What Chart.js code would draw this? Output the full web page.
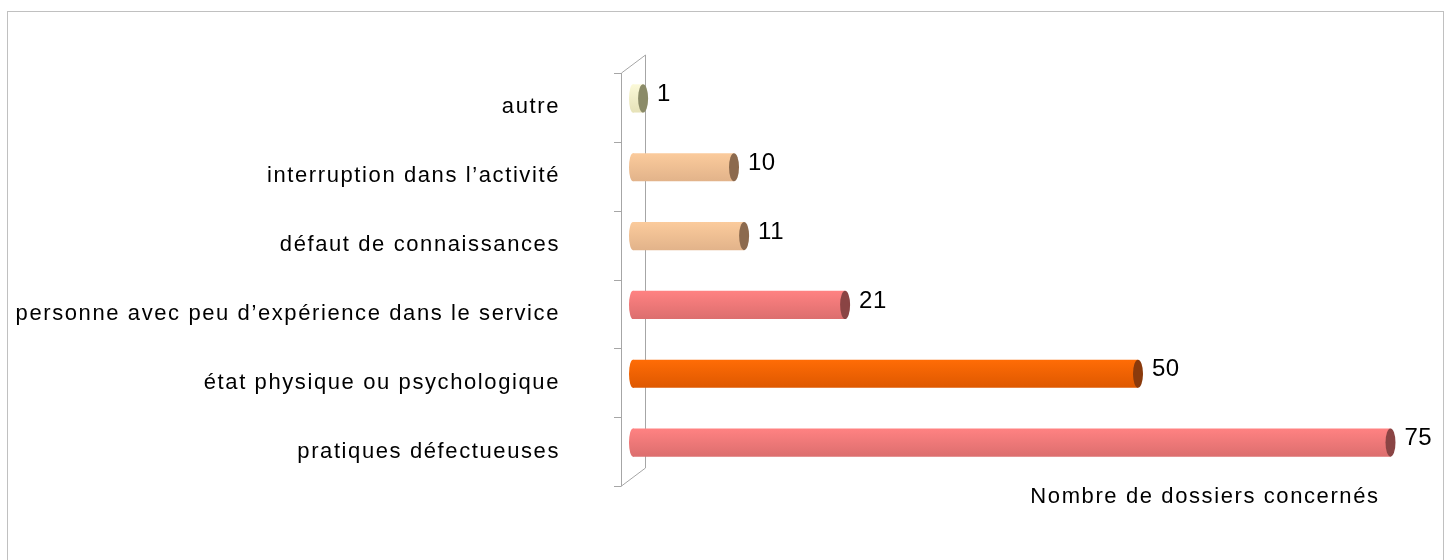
<!DOCTYPE html>
<html>
<head>
<meta charset="utf-8">
<script src="https://cdn.jsdelivr.net/npm/chart.js@4"></script>
<style>
  html, body { margin: 0; padding: 0; background: #fff; }
  #wrap { position: relative; width: 1452px; height: 560px; overflow: hidden; }
  #frame {
    position: absolute; left: 7px; top: 11px; width: 1437px; height: 560px;
    border: 1px solid #c0c0c0; box-sizing: border-box;
  }
  canvas { position: absolute; left: 0; top: 0; }
</style>
</head>
<body>
<div id="wrap">
  <div id="frame"></div>
  <canvas id="chart" width="1452" height="560"></canvas>
</div>
<script>
// categories, listed top to bottom as in the picture
const categories = [
  "autre",
  "interruption dans l\u2019activit\u00e9",
  "d\u00e9faut de connaissances",
  "personne avec peu d\u2019exp\u00e9rience dans le service",
  "\u00e9tat physique ou psychologique",
  "pratiques d\u00e9fectueuses"
];
const values = [1, 10, 11, 21, 50, 75];
const axisTitle = "Nombre de dossiers concern\u00e9s";

// [top, bottom, cap] per bar
const palette = [
  ["#fbf9d8", "#e6e2b8", "#8b8b68"],
  ["#fbcb9c", "#e2b38a", "#8c6a4e"],
  ["#fbcb9c", "#e2b38a", "#8c6a4e"],
  ["#ff8282", "#dc6e6e", "#8a4444"],
  ["#ff6c06", "#de5800", "#8a3a0c"],
  ["#ff8282", "#dc6e6e", "#8a4444"]
];

const FONT = "'Liberation Sans', Arial, sans-serif";
const SPACING = "1.6px";
const DEPTH_X = 12, DEPTH_Y = 9;

function makeGradient(ctx, y, i) {
  const half = 14;
  const g = ctx.createLinearGradient(0, y - half, 0, y + half);
  g.addColorStop(0, palette[i][0]);
  g.addColorStop(1, palette[i][1]);
  return g;
}

function barGradient(context) {
  const chart = context.chart;
  if (!chart.chartArea) return palette[context.dataIndex][0];
  const y = chart.scales.y.getPixelForValue(context.dataIndex);
  return makeGradient(chart.ctx, y, context.dataIndex);
}

const wallPlugin = {
  id: "walls",
  beforeDraw(chart) {
    chart.ctx.letterSpacing = SPACING;
  },
  beforeDatasetsDraw(chart) {
    const { ctx, chartArea: a } = chart;
    const fx = a.left - DEPTH_X, bx = a.left + DEPTH_X;
    const fTop = a.top + DEPTH_Y, fBot = a.bottom + DEPTH_Y;
    const bTop = a.top - DEPTH_Y, bBot = a.bottom - DEPTH_Y;
    ctx.save();
    ctx.strokeStyle = "#a6a6a6";
    ctx.lineWidth = 1;
    ctx.beginPath();
    ctx.moveTo(fx + 0.5, fTop); ctx.lineTo(fx + 0.5, fBot);
    ctx.moveTo(bx + 0.5, bTop); ctx.lineTo(bx + 0.5, bBot);
    ctx.moveTo(fx + 0.5, fTop); ctx.lineTo(bx + 0.5, bTop);
    ctx.moveTo(fx + 0.5, fBot); ctx.lineTo(bx + 0.5, bBot);
    const band = (a.bottom - a.top) / categories.length;
    for (let i = 0; i <= categories.length; i++) {
      const ty = Math.round(fTop + i * band) + 0.5;
      ctx.moveTo(fx - 7, ty); ctx.lineTo(fx + 0.5, ty);
    }
    ctx.stroke();
    ctx.restore();
  },
  afterDatasetsDraw(chart) {
    const { ctx } = chart;
    const meta = chart.getDatasetMeta(0);
    ctx.save();
    meta.data.forEach((bar, i) => {
      const h = bar.height;
      // rounded start of the cylinder
      ctx.fillStyle = makeGradient(ctx, bar.y, i);
      ctx.beginPath();
      ctx.ellipse(bar.base, bar.y, 4, h / 2, 0, 0, Math.PI * 2);
      ctx.fill();
      // end cap of the cylinder
      ctx.fillStyle = palette[i][2];
      ctx.beginPath();
      ctx.ellipse(bar.x, bar.y, 5, h / 2, 0, 0, Math.PI * 2);
      ctx.fill();
      // value label
      ctx.letterSpacing = "0.5px";
      ctx.fillStyle = "#000";
      ctx.font = "24px " + FONT;
      ctx.textAlign = "left";
      ctx.textBaseline = "middle";
      ctx.fillText(String(values[i]), bar.x + 14, bar.y - 4);
    });
    // axis title
    const a = chart.chartArea;
    ctx.letterSpacing = SPACING;
    ctx.font = "22px " + FONT;
    ctx.textAlign = "center";
    ctx.textBaseline = "alphabetic";
    ctx.fillText(axisTitle, 1205, a.bottom + 26);
    ctx.restore();
  }
};

new Chart(document.getElementById("chart"), {
  type: "bar",
  data: {
    labels: categories,
    datasets: [{
      data: values,
      backgroundColor: barGradient,
      borderWidth: 0,
      borderRadius: 0,
      barPercentage: 0.41,
      categoryPercentage: 1
    }]
  },
  options: {
    indexAxis: "y",
    responsive: false,
    animation: false,
    layout: { padding: { left: 12, right: 11, top: 64, bottom: 83 } },
    plugins: {
      legend: { display: false },
      tooltip: { enabled: false }
    },
    scales: {
      x: {
        display: false,
        min: 0,
        max: 80
      },
      y: {
        grid: { display: false, drawTicks: false },
        border: { display: false },
        afterFit(scale) {
          scale.width = 621;
          scale.paddingTop = 0;
          scale.paddingBottom = 0;
        },
        ticks: {
          color: "#000",
          padding: 73,
          labelOffset: DEPTH_Y,
          font: { family: FONT, size: 22 }
        }
      }
    }
  },
  plugins: [wallPlugin]
});
</script>
</body>
</html>
